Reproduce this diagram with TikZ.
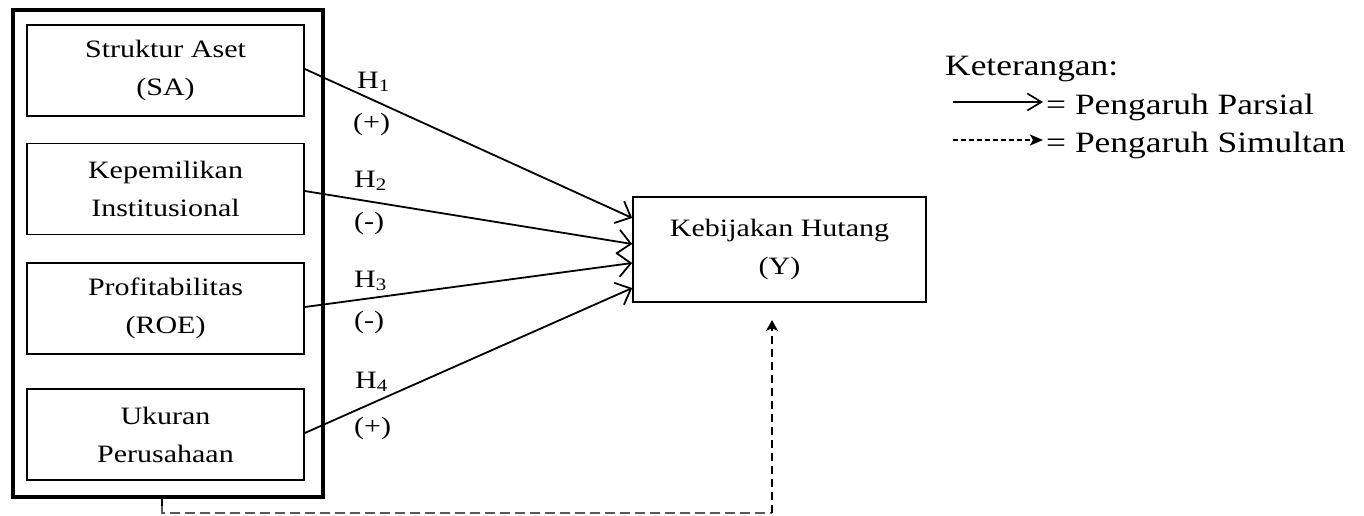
\documentclass[tikz,border=0pt]{standalone}
\usepackage{fontspec}
\setmainfont[FakeStretch=1.2]{Liberation Serif}
\usetikzlibrary{arrows.meta}
\begin{document}
\begin{tikzpicture}[x=1pt,y=-1pt,
  varbox/.style={draw,line width=1.6pt,minimum width=277pt,minimum height=91pt,align=center,font=\fontsize{25}{38}\selectfont,inner sep=0pt},
  ybox/.style={draw,line width=1.6pt,minimum width=293pt,minimum height=105pt,align=center,font=\fontsize{25}{38}\selectfont,inner sep=0pt},
  lbl/.style={font=\fontsize{25}{28}\selectfont,inner sep=0pt,anchor=base west},
  partial/.style={line width=1.8pt,-{Straight Barb[length=13pt,width=24pt,line width=1.8pt]}},
  simul/.style={line width=1.8pt,dash pattern=on 8pt off 5pt,-{Stealth[length=11pt,width=12pt,inset=3pt]}},
  legtxt/.style={font=\fontsize{29.5}{34}\selectfont,anchor=base west,inner sep=0pt,text height=20pt,text depth=6pt}]
\useasboundingbox (0,0) rectangle (1364,515);
\node[draw,line width=4pt,minimum width=310pt,minimum height=487pt,inner sep=0pt] (outer) at (168,253.5) {};
\node[varbox] (sa) at (165.5,70.5) {Struktur Aset\\(SA)};
\node[varbox] (ki) at (165.5,189) {Kepemilikan\\Institusional};
\node[varbox] (pr) at (165.5,308.5) {Profitabilitas\\(ROE)};
\node[varbox] (uk) at (165.5,434.5) {Ukuran\\Perusahaan};
\node[ybox] (y) at (779.5,249.5) {Kebijakan Hutang\\(Y)};
\draw[partial] (sa.east |- 0,69) -- (y.west |- 0,218);
\draw[partial] (ki.east |- 0,191) -- (y.west |- 0,244);
\draw[partial] (pr.east |- 0,307) -- (y.west |- 0,263);
\draw[partial] (uk.east |- 0,433) -- (y.west |- 0,288);
\node[lbl] (h1) at (357,88) {H\textsubscript{1}};
\node[lbl] (s1) at (353,130) {(+)};
\node[lbl] (h2) at (354,187) {H\textsubscript{2}};
\node[lbl] (s2) at (354,229) {(-)};
\node[lbl] (h3) at (354,287) {H\textsubscript{3}};
\node[lbl] (s3) at (354,328) {(-)};
\node[lbl] (h4) at (355,388) {H\textsubscript{4}};
\node[lbl] (s4) at (354,434) {(+)};
\coordinate (c1) at (162,497);
\coordinate (c2) at (162,506);
\coordinate (c3) at (162,513);
\coordinate (c4) at (772,513);
\coordinate (c5) at (772,320);
\draw[line width=1.5pt] (outer.south -| c1) -- (c2);
\draw[line width=1.2pt,dash pattern=on 10pt off 5pt,black!65] (c2) -- (c3) -- (c4);
\draw[simul] (c4) -- (c5);
\node[legtxt] (ket) at (945,75) {Keterangan:};
\coordinate (la1) at (953,102);
\coordinate (la2) at (1043,102);
\coordinate (lb1) at (953,140);
\coordinate (lb2) at (1043,140);
\draw[line width=1.7pt,-{Straight Barb[length=14pt,width=17pt,line width=1.7pt]}] (la1) -- (la2);
\draw[line width=1.7pt,dash pattern=on 5pt off 3pt,-{Stealth[length=13pt,width=11pt,inset=3pt]}] (lb1) -- (lb2);
\node[legtxt] (lt1) at (1046,114) {= Pengaruh Parsial};
\node[legtxt] (lt2) at (1046,152) {= Pengaruh Simultan};
\end{tikzpicture}
\end{document}
